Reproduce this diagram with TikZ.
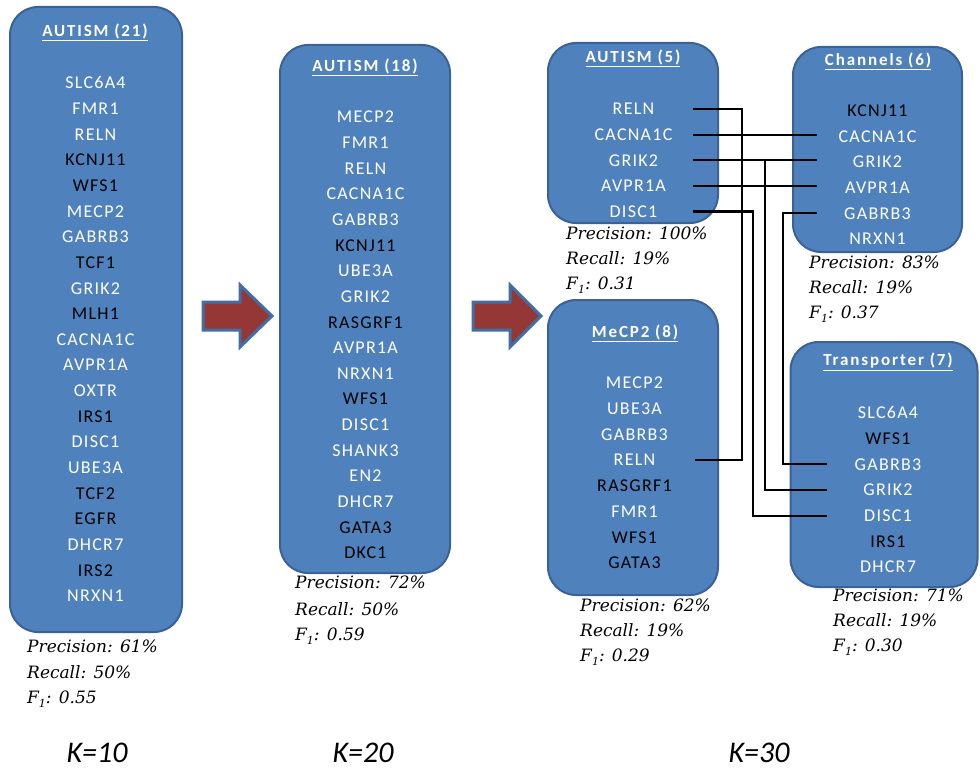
\documentclass[tikz,border=0pt]{standalone}
\usepackage{fontspec}
\newfontfamily\genefont[LetterSpace=7]{Carlito}
\newfontfamily\titlefont[LetterSpace=11]{Carlito}
\newfontfamily\kfont{Carlito}
\newfontfamily\statfont{DejaVu Serif}
\definecolor{boxfill}{RGB}{79,129,189}
\definecolor{boxline}{RGB}{58,98,150}
\definecolor{arrowred}{RGB}{149,55,53}
\definecolor{arrowblue}{RGB}{65,110,165}
\tikzset{
  box/.style={draw=boxline, line width=2pt, fill=boxfill, rounded corners=28pt, inner sep=0pt},
  gene/.style={font=\genefont\fontsize{18}{20}\selectfont, inner sep=0pt, minimum width=120pt, text height=11.6pt, text depth=0pt},
  title/.style={font=\titlefont\bfseries\fontsize{17}{20}\selectfont, text=white, inner sep=0pt},
  stat/.style={font=\statfont\itshape\fontsize{17}{20}\selectfont, anchor=base west, inner sep=0pt},
  klabel/.style={font=\kfont\itshape\fontsize{30}{34}\selectfont, anchor=base, inner sep=0pt, text depth=0pt},
  conn/.style={draw=black, line width=2.2pt},
  bigarrow/.style={draw=arrowblue, line width=3pt, fill=arrowred, line join=miter}
}
\newcommand{\fone}[1]{F\raisebox{-4pt}{\fontsize{11}{11}\selectfont 1}: #1}
\begin{document}
\begin{tikzpicture}[x=1pt,y=-1pt]
\path[use as bounding box, fill=white] (0,0) rectangle (980,768);

% boxes
\node[box, minimum width=172pt, minimum height=625pt] (box1) at (96,319.5) {};
\node[box, minimum width=170pt, minimum height=528pt] (box2) at (365,309) {};
\node[box, minimum width=170pt, minimum height=180pt] (box3) at (633,133) {};
\node[box, minimum width=169pt, minimum height=205pt] (box4) at (877.5,149.5) {};
\node[box, minimum width=170pt, minimum height=295pt] (box5) at (633,447.5) {};
\node[box, minimum width=187pt, minimum height=245pt] (box6) at (884,464.5) {};

% titles
\node[title] (t1) at (95,32) {\underline{AUTISM (21)}};
\node[title] (t2) at (365,67) {\underline{AUTISM (18)}};
\node[title] (t3) at (633,58) {\underline{AUTISM (5)}};
\node[title] (t4) at (878,61) {\underline{Channels (6)}};
\node[title] (t5) at (635,333) {\underline{MeCP2 (8)}};
\node[title] (t6) at (888,362) {\underline{Transporter (7)}};

% genes
\foreach \g/\c [count=\i from 0] in {SLC6A4/white,FMR1/white,RELN/white,KCNJ11/black,WFS1/black,MECP2/white,GABRB3/white,TCF1/black,GRIK2/white,MLH1/black,CACNA1C/white,AVPR1A/white,OXTR/white,IRS1/black,DISC1/white,UBE3A/white,TCF2/black,EGFR/black,DHCR7/white,IRS2/black,NRXN1/white}
  \node[gene, text=\c] (a-\g) at (95.5,{83+25.65*\i}) {\g};
\foreach \g/\c [count=\i from 0] in {MECP2/white,FMR1/white,RELN/white,CACNA1C/white,GABRB3/white,KCNJ11/black,UBE3A/white,GRIK2/white,RASGRF1/black,AVPR1A/white,NRXN1/white,WFS1/black,DISC1/white,SHANK3/white,EN2/white,DHCR7/white,GATA3/black,DKC1/black}
  \node[gene, text=\c] (b-\g) at (365.5,{117+25.65*\i}) {\g};
\foreach \g/\c [count=\i from 0] in {RELN/white,CACNA1C/white,GRIK2/white,AVPR1A/white,DISC1/white}
  \node[gene, text=\c, minimum width=118pt] (c-\g) at (633.5,{109+25.6*\i}) {\g};
\foreach \g/\c [count=\i from 0] in {KCNJ11/black,CACNA1C/white,GRIK2/white,AVPR1A/white,GABRB3/white,NRXN1/white}
  \node[gene, text=\c, minimum width=121pt] (d-\g) at (877.5,{111+25.55*\i}) {\g};
\foreach \g/\c [count=\i from 0] in {MECP2/white,UBE3A/white,GABRB3/white,RELN/white,RASGRF1/black,FMR1/white,WFS1/black,GATA3/black}
  \node[gene, text=\c, minimum width=121pt] (e-\g) at (634.5,{383+25.7*\i}) {\g};
\foreach \g/\c [count=\i from 0] in {SLC6A4/white,WFS1/black,GABRB3/white,GRIK2/white,DISC1/white,IRS1/black,DHCR7/white}
  \node[gene, text=\c, minimum width=122pt] (f-\g) at (888,{413+25.67*\i}) {\g};

% statistics
\node[stat] (s1a) at (27,652) {Precision: 61\%};
\node[stat] (s1b) at (27,678) {Recall: 50\%};
\node[stat] (s1c) at (27,703) {\fone{0.55}};
\node[stat] (s2a) at (295,588) {Precision: 72\%};
\node[stat] (s2b) at (295,615) {Recall: 50\%};
\node[stat] (s2c) at (295,640) {\fone{0.59}};
\node[stat] (s3a) at (566,239) {Precision: 100\%};
\node[stat] (s3b) at (566,264) {Recall: 19\%};
\node[stat] (s3c) at (566,289) {\fone{0.31}};
\node[stat] (s4a) at (809,268) {Precision: 83\%};
\node[stat] (s4b) at (809,293) {Recall: 19\%};
\node[stat] (s4c) at (809,318) {\fone{0.37}};
\node[stat] (s5a) at (580,611) {Precision: 62\%};
\node[stat] (s5b) at (580,636) {Recall: 19\%};
\node[stat] (s5c) at (580,661) {\fone{0.29}};
\node[stat] (s6a) at (833,601) {Precision: 71\%};
\node[stat] (s6b) at (833,626) {Recall: 19\%};
\node[stat] (s6c) at (833,651) {\fone{0.30}};

% K labels
\node[klabel] (k1) at (97,762) {K=10};
\node[klabel] (k2) at (363,762) {K=20};
\node[klabel] (k3) at (759,762) {K=30};

% block arrows
\draw[bigarrow] (203,302) -- (240,302) -- (240,285) -- (272,316) -- (240,347) -- (240,330) -- (203,330) -- cycle;
\draw[bigarrow] (473,302) -- (510,302) -- (510,285) -- (541,316) -- (510,347) -- (510,330) -- (473,330) -- cycle;

% connectors
\draw[conn] (c-RELN.east) -- ++(49,0) |- (e-RELN.east);
\draw[conn] (c-CACNA1C.east) -- (c-CACNA1C.east -| d-CACNA1C.west);
\draw[conn] (c-GRIK2.east) -- (c-GRIK2.east -| d-GRIK2.west);
\draw[conn] (c-GRIK2.east) -- ++(72,0) |- (f-GRIK2.west);
\draw[conn] (c-AVPR1A.east) -- (c-AVPR1A.east -| d-AVPR1A.west);
\draw[conn] (c-DISC1.east) -- ++(60,0) |- (f-DISC1.west);
\draw[conn] (d-GABRB3.west) -- ++(-34,0) |- (f-GABRB3.west);
\end{tikzpicture}
\end{document}
